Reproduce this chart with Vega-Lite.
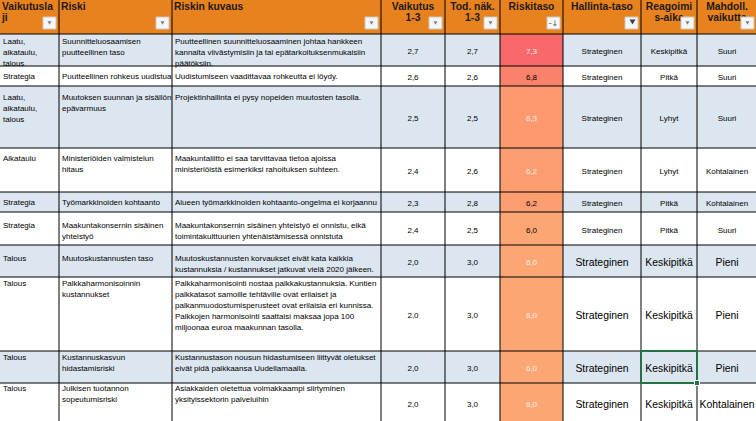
{
  "$schema": "https://vega.github.io/schema/vega-lite/v6.json",
  "width": 756,
  "height": 421,
  "padding": 0,
  "autosize": {"type": "none"},
  "background": "#FFFFFF",
  "config": {"view": {"stroke": null}},
  "datasets": {
    "riskit": [
      {"nro": 1, "Vaikutuslaji": "Laatu,\naikataulu,\ntalous", "Riski": "Suunnitteluosaamisen\npuutteellinen taso", "Riskin kuvaus": "Puutteellinen suunnitteluosaaminen johtaa hankkeen\nkannalta viivästymisiin ja tai epätarkoituksenmukaisiin\npäätöksiin.", "Vaikutus": 2.7, "Tod": 2.7, "Riskitaso": 7.3, "Hallinta-taso": "Strateginen", "Reagointiaika": "Keskipitkä", "Vaikuttavuus": "Suuri"},
      {"nro": 2, "Vaikutuslaji": "Strategia", "Riski": "Puutteellinen rohkeus uudistua", "Riskin kuvaus": "Uudistumiseen vaadittavaa rohkeutta ei löydy.", "Vaikutus": 2.6, "Tod": 2.6, "Riskitaso": 6.8, "Hallinta-taso": "Strateginen", "Reagointiaika": "Pitkä", "Vaikuttavuus": "Suuri"},
      {"nro": 3, "Vaikutuslaji": "Laatu,\naikataulu,\ntalous", "Riski": "Muutoksen suunnan ja sisällön\nepävarmuus", "Riskin kuvaus": "Projektinhallinta ei pysy nopeiden muutosten tasolla.", "Vaikutus": 2.5, "Tod": 2.5, "Riskitaso": 6.3, "Hallinta-taso": "Strateginen", "Reagointiaika": "Lyhyt", "Vaikuttavuus": "Suuri"},
      {"nro": 4, "Vaikutuslaji": "Aikataulu", "Riski": "Ministeriöiden valmistelun\nhitaus", "Riskin kuvaus": "Maakuntaliitto ei saa tarvittavaa tietoa ajoissa\nministeriöistä esimerkiksi rahoituksen suhteen.", "Vaikutus": 2.4, "Tod": 2.6, "Riskitaso": 6.2, "Hallinta-taso": "Strateginen", "Reagointiaika": "Lyhyt", "Vaikuttavuus": "Kohtalainen"},
      {"nro": 5, "Vaikutuslaji": "Strategia", "Riski": "Työmarkkinoiden kohtaanto", "Riskin kuvaus": "Alueen työmarkkinoiden kohtaanto-ongelma ei korjaannu", "Vaikutus": 2.3, "Tod": 2.8, "Riskitaso": 6.2, "Hallinta-taso": "Strateginen", "Reagointiaika": "Pitkä", "Vaikuttavuus": "Kohtalainen"},
      {"nro": 6, "Vaikutuslaji": "Strategia", "Riski": "Maakuntakonsernin sisäinen\nyhteistyö", "Riskin kuvaus": "Maakuntakonsernin sisäinen yhteistyö ei onnistu, eikä\ntoimintakulttuurien yhtenäistämisessä onnistuta", "Vaikutus": 2.4, "Tod": 2.5, "Riskitaso": 6.0, "Hallinta-taso": "Strateginen", "Reagointiaika": "Pitkä", "Vaikuttavuus": "Suuri"},
      {"nro": 7, "Vaikutuslaji": "Talous", "Riski": "Muutoskustannusten taso", "Riskin kuvaus": "Muutoskustannusten korvaukset eivät kata kaikkia\nkustannuksia / kustannukset jatkuvat vielä 2020 jälkeen.", "Vaikutus": 2.0, "Tod": 3.0, "Riskitaso": 6.0, "Hallinta-taso": "Strateginen", "Reagointiaika": "Keskipitkä", "Vaikuttavuus": "Pieni"},
      {"nro": 8, "Vaikutuslaji": "Talous", "Riski": "Palkkaharmonisoinnin\nkustannukset", "Riskin kuvaus": "Palkkaharmonisointi nostaa palkkakustannuksia. Kuntien\npalkkatasot samoille tehtäville ovat erilaiset ja\npalkanmuodostumisperusteet ovat erilaisia eri kunnissa.\nPalkkojen harmonisointi saattaisi maksaa jopa 100\nmiljoonaa euroa maakunnan tasolla.", "Vaikutus": 2.0, "Tod": 3.0, "Riskitaso": 6.0, "Hallinta-taso": "Strateginen", "Reagointiaika": "Keskipitkä", "Vaikuttavuus": "Pieni"},
      {"nro": 9, "Vaikutuslaji": "Talous", "Riski": "Kustannuskasvun\nhidastamisriski", "Riskin kuvaus": "Kustannustason nousun hidastumiseen liittyvät oletukset\neivät pidä paikkaansa Uudellamaalla.", "Vaikutus": 2.0, "Tod": 3.0, "Riskitaso": 6.0, "Hallinta-taso": "Strateginen", "Reagointiaika": "Keskipitkä", "Vaikuttavuus": "Pieni"},
      {"nro": 10, "Vaikutuslaji": "Talous", "Riski": "Julkisen tuotannon\nsopeutumisriski", "Riskin kuvaus": "Asiakkaiden oletettua voimakkaampi siirtyminen\nyksityissektorin palveluihin", "Vaikutus": 2.0, "Tod": 3.0, "Riskitaso": 6.0, "Hallinta-taso": "Strateginen", "Reagointiaika": "Keskipitkä", "Vaikuttavuus": "Kohtalainen"}
    ],
    "sarakkeet": [
      {"kentta": "Vaikutuslaji", "otsikko": "Vaikutusla\nji", "left": 0, "right": 59, "painike": "suodatin", "keskitys": false},
      {"kentta": "Riski", "otsikko": "Riski", "left": 59, "right": 172, "painike": "suodatin", "keskitys": false},
      {"kentta": "Riskin kuvaus", "otsikko": "Riskin kuvaus", "left": 172, "right": 381, "painike": "suodatin", "keskitys": false},
      {"kentta": "Vaikutus", "otsikko": "Vaikutus\n1-3", "left": 381, "right": 445, "painike": "suodatin", "keskitys": true},
      {"kentta": "Tod", "otsikko": "Tod. näk.\n1-3", "left": 445, "right": 500, "painike": "suodatin", "keskitys": true},
      {"kentta": "Riskitaso", "otsikko": "Riskitaso", "left": 500, "right": 563, "painike": "lajittelu", "keskitys": true},
      {"kentta": "Hallinta-taso", "otsikko": "Hallinta-taso", "left": 563, "right": 641, "painike": "suodatettu", "keskitys": true},
      {"kentta": "Reagointiaika", "otsikko": "Reagoimi\ns-aika", "left": 641, "right": 697, "painike": "suodatin", "keskitys": true},
      {"kentta": "Vaikuttavuus", "otsikko": "Mahdoll.\nvaikutta", "left": 697, "right": 757, "painike": "suodatin", "keskitys": true}
    ],
    "rivit": [
      {"nro": 0, "top": 0, "bottom": 34, "teksti": 10},
      {"nro": 1, "top": 34, "bottom": 66, "teksti": 43.5},
      {"nro": 2, "top": 66, "bottom": 86, "teksti": 78.5},
      {"nro": 3, "top": 86, "bottom": 148, "teksti": 99.5},
      {"nro": 4, "top": 148, "bottom": 192, "teksti": 161},
      {"nro": 5, "top": 192, "bottom": 212, "teksti": 204.5},
      {"nro": 6, "top": 212, "bottom": 245, "teksti": 227.5},
      {"nro": 7, "top": 245, "bottom": 277, "teksti": 260.5},
      {"nro": 8, "top": 277, "bottom": 351, "teksti": 285.5},
      {"nro": 9, "top": 351, "bottom": 383, "teksti": 359.5},
      {"nro": 10, "top": 383, "bottom": 422, "teksti": 390.5}
    ],
    "valinta": [
      {"nro": 9, "kentta": "Reagointiaika"}
    ]
  },
  "layer": [
    {
      "data": {"name": "rivit"},
      "mark": {"type": "rect"},
      "encoding": {
        "x": {"datum": 0, "type": "quantitative", "scale": {"domain": [0, 756], "nice": false, "zero": false}, "axis": null},
        "x2": {"datum": 760},
        "y": {"field": "top", "type": "quantitative", "scale": {"domain": [0, 421], "reverse": true, "nice": false, "zero": false}, "axis": null},
        "y2": {"field": "bottom"},
        "fill": {"condition": [{"test": "datum.nro == 0", "value": "#E8821E"}, {"test": "datum.nro % 2 == 1", "value": "#DCE6F1"}], "value": "#FFFFFF"}
      }
    },
    {
      "data": {"name": "riskit"},
      "transform": [
        {"fold": ["Riskitaso"], "as": ["kentta", "arvo"]},
        {"lookup": "kentta", "from": {"data": {"name": "sarakkeet"}, "key": "kentta", "fields": ["left", "right"]}},
        {"lookup": "nro", "from": {"data": {"name": "rivit"}, "key": "nro", "fields": ["top", "bottom"]}}
      ],
      "mark": {"type": "rect"},
      "encoding": {
        "x": {"field": "left", "type": "quantitative", "scale": {"domain": [0, 756], "nice": false, "zero": false}, "axis": null},
        "x2": {"field": "right"},
        "y": {"field": "top", "type": "quantitative", "scale": {"domain": [0, 421], "reverse": true, "nice": false, "zero": false}, "axis": null},
        "y2": {"field": "bottom"},
        "fill": {"field": "arvo", "type": "quantitative", "scale": {"domain": [6.0, 7.3], "range": ["#FCA673", "#F8696B"]}, "legend": null}
      }
    },
    {
      "data": {"name": "sarakkeet"},
      "mark": {"type": "rule", "color": "#000000", "strokeWidth": 1},
      "encoding": {
        "x": {"field": "right", "type": "quantitative", "scale": {"domain": [0, 756], "nice": false, "zero": false}, "axis": null},
        "y": {"datum": 0, "type": "quantitative", "scale": {"domain": [0, 421], "reverse": true, "nice": false, "zero": false}, "axis": null},
        "y2": {"datum": 421}
      }
    },
    {
      "data": {"name": "rivit"},
      "transform": [{"filter": "datum.nro < 10"}],
      "mark": {"type": "rule", "color": "#000000", "strokeWidth": 1},
      "encoding": {
        "x": {"datum": 0, "type": "quantitative", "scale": {"domain": [0, 756], "nice": false, "zero": false}, "axis": null},
        "x2": {"datum": 760},
        "y": {"field": "bottom", "type": "quantitative", "scale": {"domain": [0, 421], "reverse": true, "nice": false, "zero": false}, "axis": null}
      }
    },
    {
      "data": {"name": "riskit"},
      "transform": [
        {"fold": ["Vaikutuslaji", "Riski", "Riskin kuvaus"], "as": ["kentta", "arvo"]},
        {"lookup": "kentta", "from": {"data": {"name": "sarakkeet"}, "key": "kentta", "fields": ["left", "right"]}},
        {"lookup": "nro", "from": {"data": {"name": "rivit"}, "key": "nro", "fields": ["top", "bottom", "teksti"]}}
      ],
      "mark": {"type": "text", "align": "left", "baseline": "alphabetic", "dx": 3, "font": "Liberation Sans", "fontSize": 8, "lineHeight": 11, "lineBreak": "\n", "color": "#000000"},
      "encoding": {
        "x": {"field": "left", "type": "quantitative", "scale": {"domain": [0, 756], "nice": false, "zero": false}, "axis": null},
        "y": {"field": "teksti", "type": "quantitative", "scale": {"domain": [0, 421], "reverse": true, "nice": false, "zero": false}, "axis": null},
        "text": {"field": "arvo", "type": "nominal"}
      }
    },
    {
      "data": {"name": "riskit"},
      "transform": [
        {"fold": ["Vaikutus", "Tod", "Riskitaso"], "as": ["kentta", "arvo"]},
        {"calculate": "replace(format(datum.arvo, '.1f'), '.', ',')", "as": "nimi"},
        {"lookup": "kentta", "from": {"data": {"name": "sarakkeet"}, "key": "kentta", "fields": ["left", "right"]}},
        {"lookup": "nro", "from": {"data": {"name": "rivit"}, "key": "nro", "fields": ["top", "bottom"]}},
        {"calculate": "(datum.left + datum.right) / 2", "as": "xc"},
        {"calculate": "(datum.top + datum.bottom) / 2", "as": "yc"}
      ],
      "mark": {"type": "text", "align": "center", "baseline": "middle", "dy": 2, "font": "Liberation Sans", "fontSize": 8},
      "encoding": {
        "x": {"field": "xc", "type": "quantitative", "scale": {"domain": [0, 756], "nice": false, "zero": false}, "axis": null},
        "y": {"field": "yc", "type": "quantitative", "scale": {"domain": [0, 421], "reverse": true, "nice": false, "zero": false}, "axis": null},
        "text": {"field": "nimi", "type": "nominal"},
        "color": {"condition": {"test": "datum.kentta == 'Riskitaso' && indexof([1, 3, 4, 7, 8, 9, 10], datum.nro) >= 0", "value": "#FFF1EC"}, "value": "#000000"}
      }
    },
    {
      "data": {"name": "riskit"},
      "transform": [
        {"fold": ["Hallinta-taso", "Reagointiaika", "Vaikuttavuus"], "as": ["kentta", "arvo"]},
        {"lookup": "kentta", "from": {"data": {"name": "sarakkeet"}, "key": "kentta", "fields": ["left", "right"]}},
        {"lookup": "nro", "from": {"data": {"name": "rivit"}, "key": "nro", "fields": ["top", "bottom"]}},
        {"calculate": "(datum.left + datum.right) / 2", "as": "xc"},
        {"calculate": "(datum.top + datum.bottom) / 2", "as": "yc"}
      ],
      "mark": {"type": "text", "align": "center", "baseline": "middle", "dy": 2, "font": "Liberation Sans", "color": "#000000"},
      "encoding": {
        "x": {"field": "xc", "type": "quantitative", "scale": {"domain": [0, 756], "nice": false, "zero": false}, "axis": null},
        "y": {"field": "yc", "type": "quantitative", "scale": {"domain": [0, 421], "reverse": true, "nice": false, "zero": false}, "axis": null},
        "text": {"field": "arvo", "type": "nominal"},
        "size": {"condition": {"test": "datum.nro >= 7", "value": 10.4}, "value": 8}
      }
    },
    {
      "data": {"name": "sarakkeet"},
      "transform": [{"filter": "!datum.keskitys"}],
      "mark": {"type": "text", "align": "left", "baseline": "alphabetic", "dx": 2, "y": 10, "font": "Liberation Sans", "fontWeight": "bold", "fontSize": 10.3, "lineHeight": 10.5, "lineBreak": "\n", "color": "#1E1A16"},
      "encoding": {
        "x": {"field": "left", "type": "quantitative", "scale": {"domain": [0, 756], "nice": false, "zero": false}, "axis": null},
        "text": {"field": "otsikko", "type": "nominal"}
      }
    },
    {
      "data": {"name": "sarakkeet"},
      "transform": [
        {"filter": "datum.keskitys"},
        {"calculate": "(datum.left + datum.right) / 2", "as": "xc"}
      ],
      "mark": {"type": "text", "align": "center", "baseline": "alphabetic", "y": 10, "font": "Liberation Sans", "fontWeight": "bold", "fontSize": 10.3, "lineHeight": 10.5, "lineBreak": "\n", "color": "#1E1A16"},
      "encoding": {
        "x": {"field": "xc", "type": "quantitative", "scale": {"domain": [0, 756], "nice": false, "zero": false}, "axis": null},
        "text": {"field": "otsikko", "type": "nominal"}
      }
    },
    {
      "data": {"name": "sarakkeet"},
      "transform": [
        {"calculate": "datum.right - 16", "as": "b0"},
        {"calculate": "datum.right - 3", "as": "b1"}
      ],
      "mark": {"type": "rect", "y": 17, "y2": 29, "fill": "#F6F6F6", "stroke": "#C8C8C8", "strokeWidth": 1},
      "encoding": {
        "x": {"field": "b0", "type": "quantitative", "scale": {"domain": [0, 756], "nice": false, "zero": false}, "axis": null},
        "x2": {"field": "b1"}
      }
    },
    {
      "data": {"name": "sarakkeet"},
      "transform": [
        {"filter": "datum.painike == 'suodatin'"},
        {"calculate": "datum.right - 9.5", "as": "bc"}
      ],
      "mark": {"type": "point", "shape": "triangle-down", "filled": true, "size": 16, "color": "#7F7F7F", "opacity": 1, "y": 23},
      "encoding": {
        "x": {"field": "bc", "type": "quantitative", "scale": {"domain": [0, 756], "nice": false, "zero": false}, "axis": null}
      }
    },
    {
      "data": {"name": "sarakkeet"},
      "transform": [
        {"filter": "datum.painike == 'lajittelu'"},
        {"calculate": "datum.right - 9.5", "as": "bc"}
      ],
      "mark": {"type": "text", "text": "-↓", "align": "center", "baseline": "middle", "y": 24, "font": "DejaVu Sans", "fontSize": 8, "color": "#555555"},
      "encoding": {
        "x": {"field": "bc", "type": "quantitative", "scale": {"domain": [0, 756], "nice": false, "zero": false}, "axis": null}
      }
    },
    {
      "data": {"name": "sarakkeet"},
      "transform": [
        {"filter": "datum.painike == 'suodatettu'"},
        {"calculate": "datum.right - 8.5", "as": "bc"}
      ],
      "mark": {"type": "point", "shape": "triangle-down", "filled": true, "size": 36, "color": "#404040", "opacity": 1, "y": 22},
      "encoding": {
        "x": {"field": "bc", "type": "quantitative", "scale": {"domain": [0, 756], "nice": false, "zero": false}, "axis": null}
      }
    },
    {
      "data": {"name": "valinta"},
      "transform": [
        {"lookup": "kentta", "from": {"data": {"name": "sarakkeet"}, "key": "kentta", "fields": ["left", "right"]}},
        {"lookup": "nro", "from": {"data": {"name": "rivit"}, "key": "nro", "fields": ["top", "bottom"]}}
      ],
      "mark": {"type": "rect", "fill": null, "fillOpacity": 0, "stroke": "#217346", "strokeWidth": 2},
      "encoding": {
        "x": {"field": "left", "type": "quantitative", "scale": {"domain": [0, 756], "nice": false, "zero": false}, "axis": null},
        "x2": {"field": "right"},
        "y": {"field": "top", "type": "quantitative", "scale": {"domain": [0, 421], "reverse": true, "nice": false, "zero": false}, "axis": null},
        "y2": {"field": "bottom"}
      }
    },
    {
      "data": {"name": "valinta"},
      "transform": [
        {"lookup": "kentta", "from": {"data": {"name": "sarakkeet"}, "key": "kentta", "fields": ["right"]}},
        {"lookup": "nro", "from": {"data": {"name": "rivit"}, "key": "nro", "fields": ["bottom"]}}
      ],
      "mark": {"type": "square", "filled": true, "size": 25, "color": "#217346", "opacity": 1, "stroke": "#FFFFFF", "strokeWidth": 1},
      "encoding": {
        "x": {"field": "right", "type": "quantitative", "scale": {"domain": [0, 756], "nice": false, "zero": false}, "axis": null},
        "y": {"field": "bottom", "type": "quantitative", "scale": {"domain": [0, 421], "reverse": true, "nice": false, "zero": false}, "axis": null}
      }
    }
  ]
}
